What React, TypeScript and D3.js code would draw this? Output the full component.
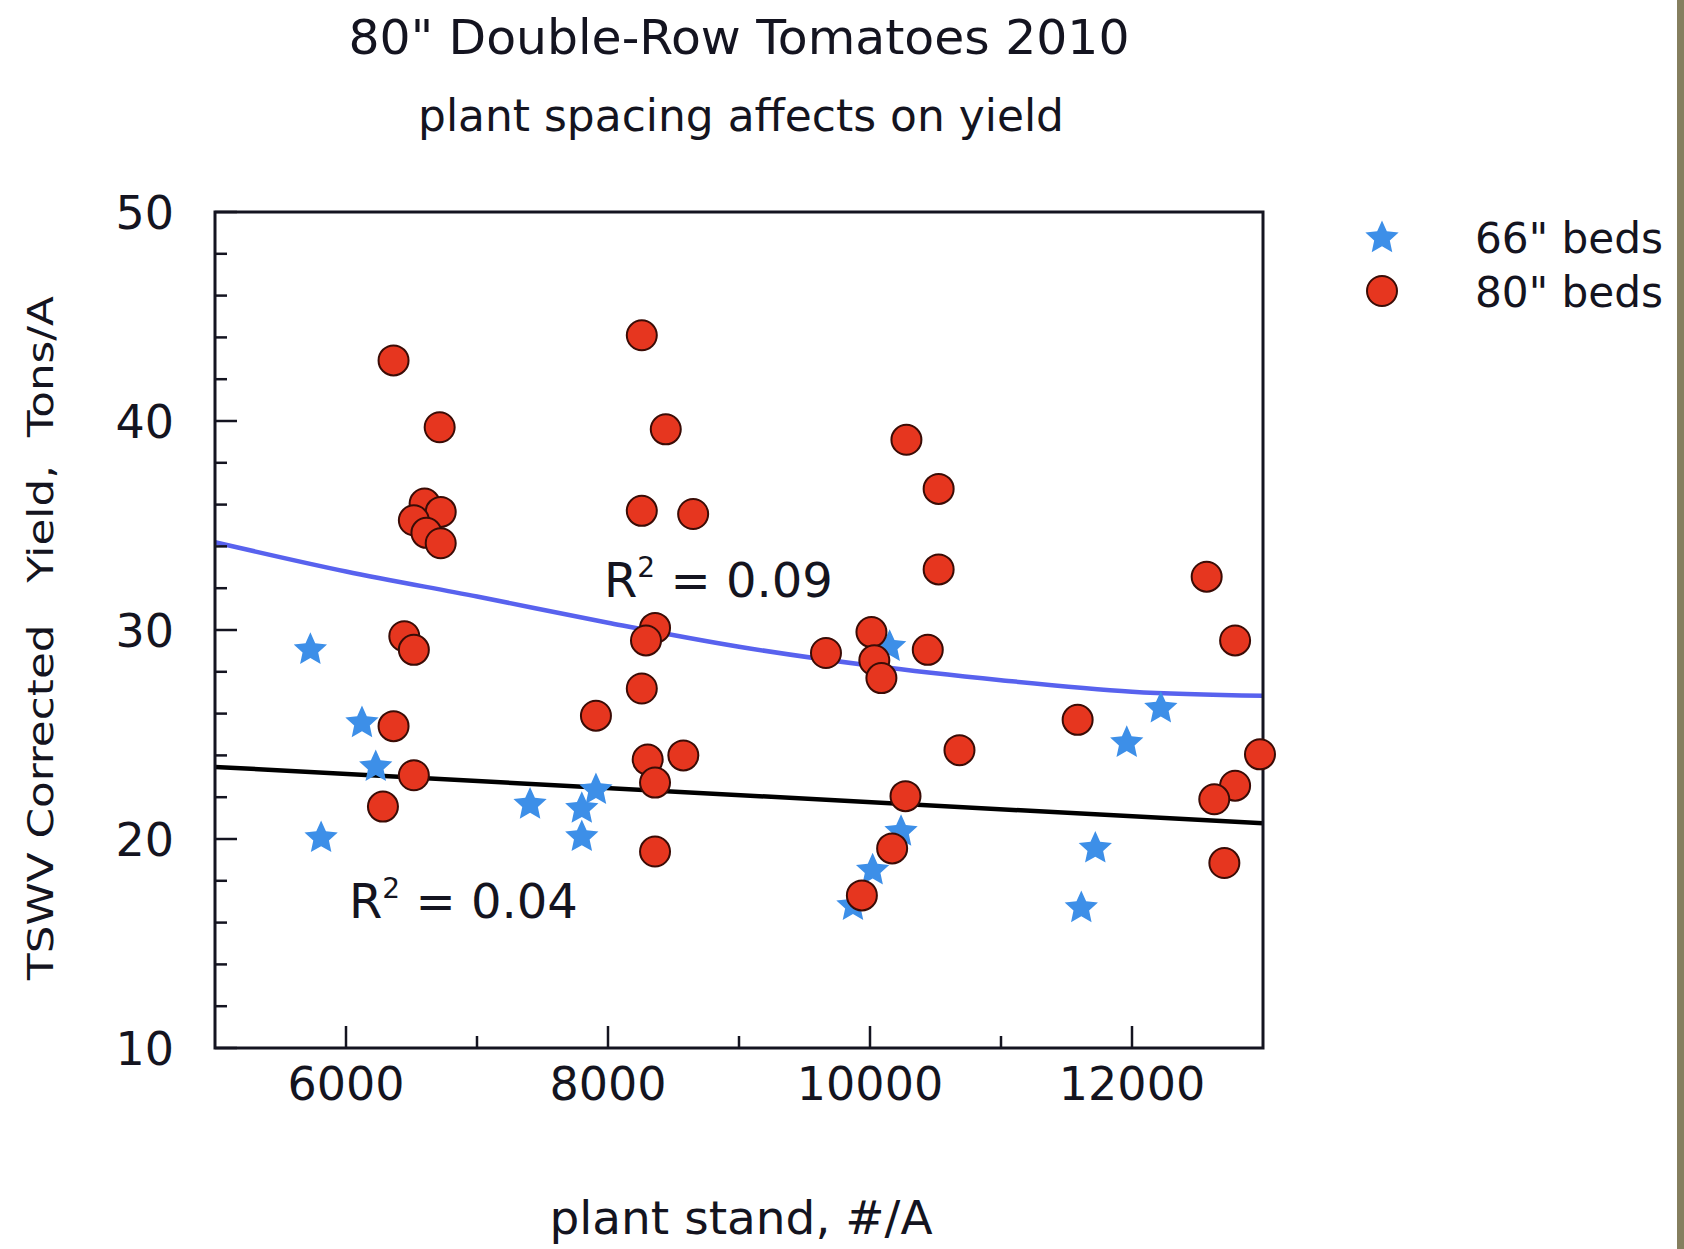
import * as d3 from 'd3';

// 80" beds (red circles): plant stand #/A, yield tons/A
const bed80Stand = [
  6363, 6715, 6600, 6723, 6518, 6614, 6723, 6445, 6518, 6363, 6518, 6282,
  8258, 8441, 8258, 8650, 8359, 8290, 8258, 7908, 8303, 8359, 8575, 8359,
  10278, 10524, 10524, 9664, 10011, 10033, 10087, 10441, 10683, 10271, 10169, 9938,
  11585, 12570, 12787, 12977, 12787, 12628, 12705,
];
const bed80Yield = [
  42.9, 39.7, 36.05, 35.65, 35.25, 34.65, 34.15, 29.7, 29.05, 25.4, 23.05, 21.55,
  44.1, 39.6, 35.7, 35.55, 30.1, 29.5, 27.2, 25.9, 23.8, 22.7, 24.0, 19.4,
  39.1, 36.75, 32.9, 28.9, 29.9, 28.55, 27.7, 29.05, 24.25, 22.05, 19.55, 17.3,
  25.7, 32.55, 29.5, 24.05, 22.55, 21.9, 18.85,
];

// 66" beds (blue stars)
const bed66Stand = [
  5728, 6122, 6227, 5810, 7405, 7800, 7908, 7800,
  10150, 10237, 10020, 9870, 11613, 11720, 11960, 12220,
];
const bed66Yield = [
  29.05, 25.55, 23.45, 20.05, 21.65, 21.45, 22.35, 20.1,
  29.2, 20.35, 18.5, 16.8, 16.7, 19.55, 24.6, 26.25,
];

// trend lines
const trend80Stand = [5000, 6000, 7000, 8000, 9000, 10000, 11000, 12000, 13000];
const trend80Yield = [34.2, 32.8, 31.6, 30.35, 29.2, 28.3, 27.6, 27.05, 26.85];
const trend66Stand = [5000, 13000];
const trend66Yield = [23.45, 20.75];

const xMajorTicks = [6000, 8000, 10000, 12000];
const xMinorTicks = [7000, 9000, 11000];
const xTickLabels = ['6000', '8000', '10000', '12000'];
const yMajorTicks = [10, 20, 30, 40, 50];
const yMinorTicks = [12, 14, 16, 18, 22, 24, 26, 28, 32, 34, 36, 38, 42, 44, 46, 48];
const yTickLabels = ['10', '20', '30', '40', '50'];

const seriesNames = ['66" beds', '80" beds'];

const W = 1684;
const H = 1249;
const FONT = '"DejaVu Sans", Verdana, sans-serif';
const INK = '#141420';
const RED = '#e6361f';
const RED_EDGE = '#3a0c06';
const STAR_BLUE = '#3d8fe8';
const LINE_BLUE = '#5862ee';

// chubbier five-point star than d3.symbolStar
const fatStar = {
  draw(context: any, size: number) {
    const r = Math.sqrt(size);
    const inner = r * 0.47;
    for (let i = 0; i < 10; i++) {
      const rad = i % 2 === 0 ? r : inner;
      const a = (Math.PI / 5) * i - Math.PI / 2;
      const px = rad * Math.cos(a);
      const py = rad * Math.sin(a);
      if (i === 0) context.moveTo(px, py);
      else context.lineTo(px, py);
    }
    context.closePath();
  },
};

export default function App() {
  const left = 215, right = 1263, top = 212, bottom = 1048;

  const x = d3.scaleLinear().domain([5000, 13000]).range([left, right]);
  const y = d3.scaleLinear().domain([10, 50]).range([bottom, top]);

  const curve80 = d3
    .line<number>()
    .x((d, i) => x(trend80Stand[i]))
    .y((d) => y(d))
    .curve(d3.curveMonotoneX);
  const line66 = d3
    .line<number>()
    .x((d, i) => x(trend66Stand[i]))
    .y((d) => y(d));

  const starPath = d3.symbol(fatStar as any, 17.5 * 17.5)() as string;
  const circleR = 15;

  return (
    <svg
      width={W}
      height={H}
      style={{ position: 'absolute', left: 0, top: 0, background: '#fff' }}
      fontFamily={FONT}
    >
      <rect x={0} y={0} width={W} height={H} fill="#fff" />
      {/* olive strip at the right edge of the original image */}
      <rect x={1677} y={0} width={7} height={H} fill="#857f5f" />

      {/* titles */}
      <text x={739} y={54} textAnchor="middle" fontSize={48} fill={INK} textLength={781} lengthAdjust="spacingAndGlyphs">
        80" Double-Row Tomatoes 2010
      </text>
      <text x={741} y={131} textAnchor="middle" fontSize={44} fill={INK} textLength={646} lengthAdjust="spacingAndGlyphs">
        plant spacing affects on yield
      </text>

      {/* trend lines */}
      <path d={line66(trend66Yield) as string} fill="none" stroke="#000" strokeWidth={4.5} />
      <path d={curve80(trend80Yield) as string} fill="none" stroke={LINE_BLUE} strokeWidth={4.5} />

      {/* frame */}
      <rect x={left} y={top} width={right - left} height={bottom - top} fill="none" stroke={INK} strokeWidth={3} />

      {/* ticks */}
      {xMajorTicks.map((t) => (
        <line key={'xM' + t} x1={x(t)} x2={x(t)} y1={bottom} y2={bottom - 22} stroke={INK} strokeWidth={2.5} />
      ))}
      {xMinorTicks.map((t) => (
        <line key={'xm' + t} x1={x(t)} x2={x(t)} y1={bottom} y2={bottom - 12} stroke={INK} strokeWidth={2.5} />
      ))}
      {yMajorTicks.map((t) => (
        <line key={'yM' + t} x1={left} x2={left + 22} y1={y(t)} y2={y(t)} stroke={INK} strokeWidth={2.5} />
      ))}
      {yMinorTicks.map((t) => (
        <line key={'ym' + t} x1={left} x2={left + 12} y1={y(t)} y2={y(t)} stroke={INK} strokeWidth={2.5} />
      ))}

      {/* tick labels */}
      {xMajorTicks.map((t, i) => (
        <text key={'xl' + t} x={x(t)} y={1100} textAnchor="middle" fontSize={46} fill={INK}>
          {xTickLabels[i]}
        </text>
      ))}
      {yMajorTicks.map((t, i) => (
        <text key={'yl' + t} x={174} y={y(t)} dy="0.36em" textAnchor="end" fontSize={46} fill={INK}>
          {yTickLabels[i]}
        </text>
      ))}

      {/* axis titles */}
      <text x={741} y={1234} textAnchor="middle" fontSize={47} fill={INK} textLength={383} lengthAdjust="spacingAndGlyphs">
        plant stand, #/A
      </text>
      <text
        transform={`translate(53, ${(296 + 980) / 2}) rotate(-90)`}
        textAnchor="middle"
        fontSize={36}
        fill={INK}
        style={{ whiteSpace: 'pre' }}
        textLength={684}
        lengthAdjust="spacingAndGlyphs"
      >
        {'TSWV Corrected   Yield,  Tons/A'}
      </text>

      {/* R² labels */}
      <text x={604} y={597} fontSize={48} fill={INK}>
        R<tspan fontSize={28} dy={-20}>2</tspan>
        <tspan dy={20}> = 0.09</tspan>
      </text>
      <text x={349} y={918} fontSize={48} fill={INK}>
        R<tspan fontSize={28} dy={-20}>2</tspan>
        <tspan dy={20}> = 0.04</tspan>
      </text>

      {/* 66" beds */}
      {bed66Stand.map((s, i) => (
        <path key={'s' + i} d={starPath} transform={`translate(${x(s)},${y(bed66Yield[i])})`} fill={STAR_BLUE} />
      ))}
      {/* 80" beds */}
      {bed80Stand.map((s, i) => (
        <circle key={'c' + i} cx={x(s)} cy={y(bed80Yield[i])} r={circleR} fill={RED} stroke={RED_EDGE} strokeWidth={2} />
      ))}

      {/* legend */}
      <path d={starPath} transform="translate(1382,238)" fill={STAR_BLUE} />
      <circle cx={1382} cy={291} r={circleR} fill={RED} stroke={RED_EDGE} strokeWidth={2} />
      <text x={1475} y={253} fontSize={43} fill={INK} textLength={188} lengthAdjust="spacingAndGlyphs">
        {seriesNames[0]}
      </text>
      <text x={1475} y={307} fontSize={43} fill={INK} textLength={188} lengthAdjust="spacingAndGlyphs">
        {seriesNames[1]}
      </text>
    </svg>
  );
}
